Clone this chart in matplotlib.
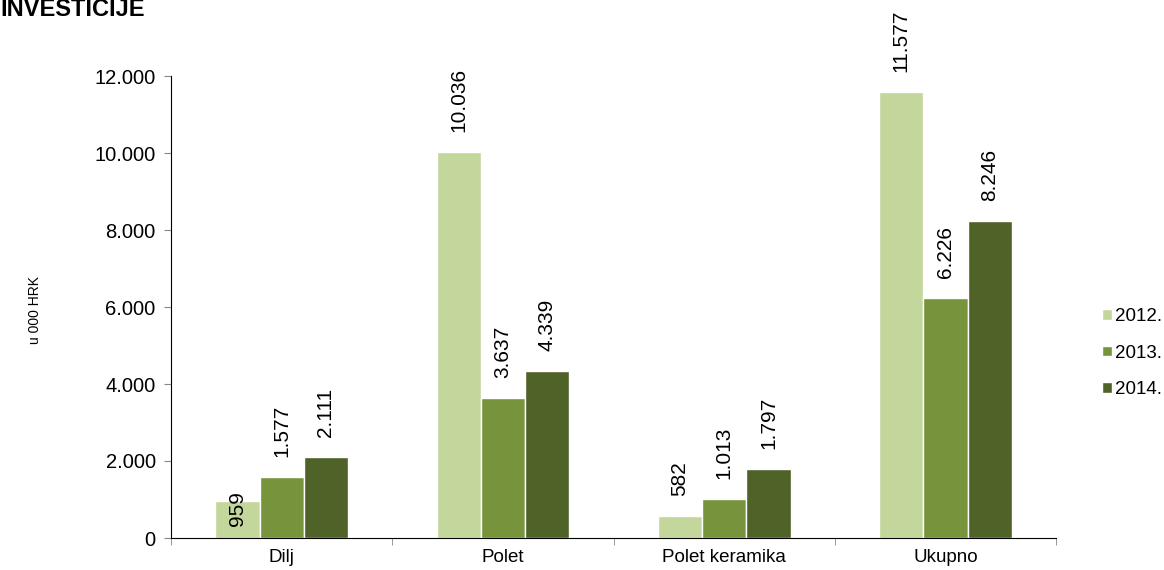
import matplotlib
matplotlib.use("Agg")
import matplotlib.pyplot as plt
import numpy as np

plt.rcParams['font.family'] = ['Liberation Sans', 'DejaVu Sans']

# data (u 000 HRK)
categories = ['Dilj', 'Polet', 'Polet keramika', 'Ukupno']
years = ['2012.', '2013.', '2014.']
v2012 = [959, 10036, 582, 11577]
v2013 = [1577, 3637, 1013, 6226]
v2014 = [2111, 4339, 1797, 8246]
series = [v2012, v2013, v2014]
colors = ['#C3D69B', '#77933C', '#4F6228']


def fmt(v):
    # thousands separator as dot
    return f"{v:,}".replace(",", ".")


fig = plt.figure(figsize=(11.64, 5.70), dpi=100)
ax = fig.add_axes([171 / 1164, 32 / 570, (1056 - 171) / 1164, (538 - 76) / 570])

x = np.arange(len(categories))
width = 0.2
for i, (vals, col, yr) in enumerate(zip(series, colors, years)):
    pos = x + (i - 1) * width
    bars = ax.bar(pos, vals, width, color=col, edgecolor='white', linewidth=1, label=yr)
    for b, v in zip(bars, vals):
        off = -25 if v == 959 else 20  # the small Dilj label sits over the bar top
        ax.annotate(fmt(v), (b.get_x() + b.get_width() / 2, v),
                    xytext=(0, off), textcoords='offset pixels',
                    rotation=90, ha='center', va='bottom', fontsize=15,
                    annotation_clip=False)

ax.set_xlim(-0.5, len(categories) - 0.5)
ax.set_ylim(0, 12000)
ax.set_yticks(np.arange(0, 12001, 2000))
ax.set_yticklabels([fmt(t) for t in range(0, 12001, 2000)], fontsize=14.5)
ax.set_xticks(x)
ax.set_xticklabels(categories, fontsize=13.5)
ax.set_xticks(np.arange(-0.5, len(categories), 1), minor=True)
ax.tick_params(axis='x', which='major', length=0, pad=8)
ax.tick_params(axis='x', which='minor', length=5, color='#888888', direction='out')
ax.tick_params(axis='y', length=5, color='#888888', direction='out', pad=6)

for s in ['top', 'right']:
    ax.spines[s].set_visible(False)
ax.spines['left'].set_color('black')
ax.spines['bottom'].set_color('black')

fig.text(0.03, 1 - 310 / 570, 'u 000 HRK', rotation=90, ha='center', va='center', fontsize=10)
fig.text(0.0, 1 - 16 / 570, 'INVESTICIJE', fontsize=17, fontweight='bold', ha='left', va='baseline')

fig.legend(loc='center left', bbox_to_anchor=(1093 / 1164, 1 - 353 / 570), frameon=False,
           fontsize=13.5, handlelength=0.5, handleheight=0.5, handletextpad=0.15,
           labelspacing=1.05, borderpad=0)

fig.savefig('out.png', dpi=100)
